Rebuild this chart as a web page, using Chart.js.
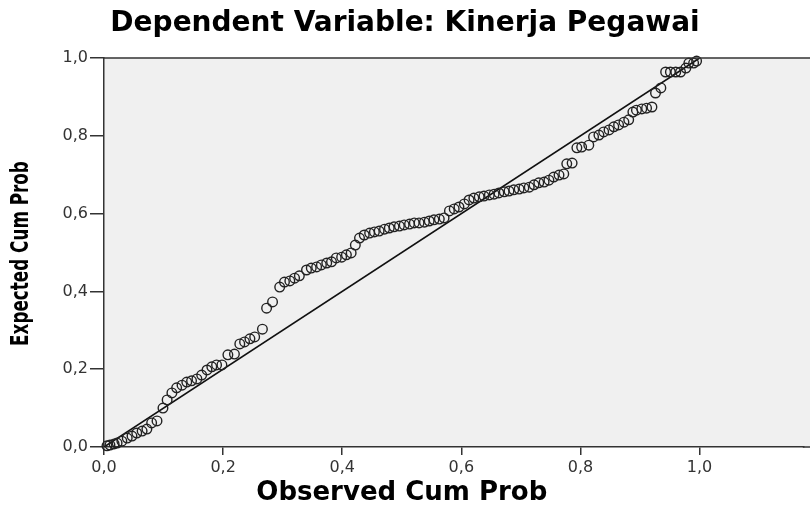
<!DOCTYPE html>
<html>
<head>
<meta charset="utf-8">
<script src="https://cdn.jsdelivr.net/npm/chart.js@4.4.1/dist/chart.umd.min.js"></script>
<style>
  html, body { margin: 0; padding: 0; background: #ffffff; }
  #grafico_pp { display: block; }
</style>
</head>
<body>
<canvas id="grafico_pp" width="810" height="508"></canvas>
<script>
const titulo = 'Dependent Variable: Kinerja Pegawai';
const tituloX = 'Observed Cum Prob';
const tituloY = 'Expected Cum Prob';

const observado = [
  0.005, 0.010, 0.017, 0.022, 0.030, 0.039, 0.047, 0.055, 0.064, 0.072,
  0.080, 0.089, 0.099, 0.106, 0.114, 0.122, 0.131, 0.139, 0.147, 0.156,
  0.164, 0.173, 0.181, 0.189, 0.198, 0.208, 0.219, 0.228, 0.236, 0.245,
  0.253, 0.266, 0.273, 0.283, 0.295, 0.303, 0.312, 0.320, 0.328, 0.340,
  0.348, 0.357, 0.365, 0.374, 0.382, 0.390, 0.399, 0.407, 0.415, 0.422,
  0.429, 0.437, 0.446, 0.454, 0.462, 0.471, 0.479, 0.487, 0.496, 0.504,
  0.513, 0.521, 0.529, 0.538, 0.546, 0.554, 0.563, 0.571, 0.580, 0.588,
  0.596, 0.605, 0.613, 0.621, 0.630, 0.638, 0.647, 0.655, 0.663, 0.672,
  0.680, 0.688, 0.697, 0.705, 0.714, 0.722, 0.730, 0.739, 0.747, 0.755,
  0.764, 0.772, 0.777, 0.786, 0.794, 0.802, 0.814, 0.822, 0.831, 0.839,
  0.848, 0.856, 0.864, 0.873, 0.881, 0.888, 0.894, 0.903, 0.911, 0.920,
  0.926, 0.935, 0.943, 0.951, 0.960, 0.968, 0.977, 0.982, 0.990, 0.995
];
const esperado = [
  0.003, 0.005, 0.008, 0.010, 0.015, 0.023, 0.028, 0.036, 0.041, 0.046,
  0.062, 0.067, 0.100, 0.121, 0.139, 0.152, 0.159, 0.167, 0.170, 0.175,
  0.185, 0.198, 0.206, 0.211, 0.211, 0.237, 0.239, 0.265, 0.270, 0.278,
  0.283, 0.303, 0.357, 0.373, 0.411, 0.424, 0.427, 0.434, 0.440, 0.455,
  0.460, 0.463, 0.468, 0.473, 0.476, 0.486, 0.488, 0.494, 0.499, 0.519,
  0.537, 0.545, 0.550, 0.553, 0.555, 0.560, 0.563, 0.566, 0.568, 0.571,
  0.573, 0.576, 0.576, 0.578, 0.581, 0.584, 0.586, 0.589, 0.607, 0.612,
  0.617, 0.625, 0.635, 0.640, 0.643, 0.645, 0.648, 0.650, 0.653, 0.656,
  0.658, 0.661, 0.663, 0.666, 0.668, 0.674, 0.679, 0.681, 0.686, 0.694,
  0.699, 0.702, 0.728, 0.730, 0.769, 0.771, 0.776, 0.797, 0.802, 0.810,
  0.815, 0.823, 0.828, 0.835, 0.841, 0.861, 0.866, 0.869, 0.871, 0.874,
  0.910, 0.923, 0.964, 0.964, 0.964, 0.964, 0.974, 0.987, 0.987, 0.992
];

// Linha de referência (diagonal)
const linhaX = [0, 1];
const linhaY = [0, 1];

const ticksY = [0, 0.2, 0.4, 0.6, 0.8, 1.0];
const X_MAX = 1.175; // a imagem original corta o eixo depois de 1,0

// --- Plugin: fundo cinzento, bordas e títulos dos eixos ---
const fundoArea = {
  id: 'fundoArea',
  beforeDraw(chart) {
    const { ctx, chartArea: a } = chart;
    ctx.save();
    ctx.fillStyle = '#f0f0f0';
    ctx.fillRect(a.left, a.top, chart.width - a.left, a.bottom - a.top);
    ctx.restore();
  },
  afterDraw(chart) {
    const { ctx, chartArea: a, scales } = chart;
    ctx.save();
    ctx.strokeStyle = '#333333';
    ctx.lineWidth = 1.5;
    ctx.beginPath();
    ctx.moveTo(a.left, a.top);
    ctx.lineTo(chart.width, a.top);
    ctx.moveTo(a.right - 1, a.bottom);
    ctx.lineTo(chart.width, a.bottom);
    ctx.stroke();

    // título do eixo X centrado sobre 0..1
    ctx.fillStyle = '#000000';
    ctx.font = 'bold 26px "DejaVu Sans", sans-serif';
    ctx.textAlign = 'center';
    ctx.textBaseline = 'middle';
    ctx.fillText(tituloX, scales.x.getPixelForValue(0.5), 493);

    // título do eixo Y: texto estreito e alto, como no original
    ctx.translate(22, scales.y.getPixelForValue(0.5) + 1);
    ctx.rotate(-Math.PI / 2);
    ctx.scale(0.7, 1);
    ctx.font = 'bold 24px "DejaVu Sans", sans-serif';
    ctx.fillText(tituloY, 0, 0);
    ctx.restore();
  }
};

const virgula = v => Number(v).toFixed(1).replace('.', ',');

const pontos = observado.map((x, i) => ({ x: x, y: esperado[i] }));
const diagonal = linhaX.map((x, i) => ({ x: x, y: linhaY[i] }));

new Chart(document.getElementById('grafico_pp'), {
  type: 'scatter',
  data: {
    datasets: [
      {
        label: 'Observado',
        data: pontos,
        pointStyle: 'circle',
        pointRadius: 4.8,
        pointBorderWidth: 1.4,
        borderColor: '#222222',
        backgroundColor: 'rgba(0,0,0,0)',
        clip: false
      },
      {
        type: 'line',
        label: 'Diagonal',
        data: diagonal,
        borderColor: '#111111',
        borderWidth: 1.6,
        pointRadius: 0,
        fill: false
      }
    ]
  },
  options: {
    responsive: false,
    animation: false,
    layout: { padding: 0 },
    scales: {
      x: {
        type: 'linear',
        min: 0,
        max: X_MAX,
        afterFit(scale) {
          scale.height = 61;
          scale.paddingRight = 0;
        },
        border: { color: '#333333', width: 1.5 },
        grid: { drawOnChartArea: false, drawTicks: true, tickLength: 8, color: '#333333', lineWidth: 1.5 },
        ticks: {
          stepSize: 0.2,
          includeBounds: false,
          padding: 3,
          color: '#333333',
          font: { family: '"DejaVu Sans", sans-serif', size: 16 },
          callback: virgula
        }
      },
      y: {
        min: 0,
        max: 1,
        afterFit(scale) { scale.width = 104; },
        afterBuildTicks(scale) { scale.ticks = ticksY.map(v => ({ value: v })); },
        border: { color: '#333333', width: 1.5 },
        grid: { drawOnChartArea: false, drawTicks: true, tickLength: 14, color: '#333333', lineWidth: 1.5 },
        ticks: {
          padding: 2,
          color: '#333333',
          font: { family: '"DejaVu Sans", sans-serif', size: 16 },
          callback: virgula
        }
      }
    },
    plugins: {
      legend: { display: false },
      tooltip: { enabled: false },
      title: {
        display: true,
        text: titulo,
        color: '#000000',
        padding: { top: 7, bottom: 17.4 },
        font: { family: '"DejaVu Sans", sans-serif', size: 28, weight: 'bold' }
      }
    }
  },
  plugins: [fundoArea]
});
</script>
</body>
</html>
